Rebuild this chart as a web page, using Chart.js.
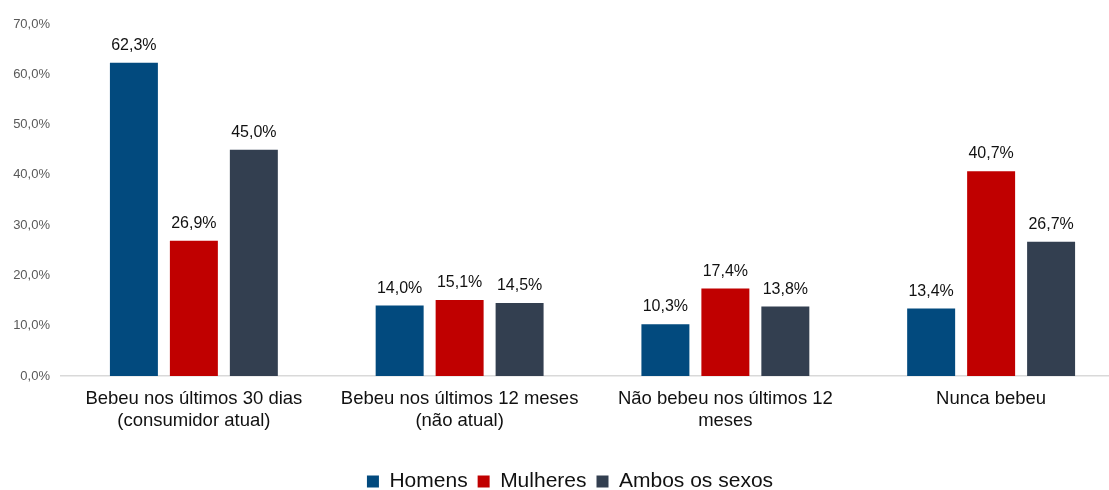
<!DOCTYPE html>
<html>
<head>
<meta charset="utf-8">
<script src="https://cdn.jsdelivr.net/npm/chart.js@4/dist/chart.umd.min.js"></script>
<style>
html,body{margin:0;padding:0;background:#fff;overflow:hidden;}
#wrap{width:1125px;height:502px;position:relative;}
</style>
</head>
<body>
<div id="wrap"><canvas id="c"></canvas></div>
<script>
const categories = [
  ["Bebeu nos últimos 30 dias", "(consumidor atual)"],
  ["Bebeu nos últimos 12 meses", "(não atual)"],
  ["Não bebeu nos últimos 12", "meses"],
  ["Nunca bebeu"]
];
const seriesNames = ["Homens", "Mulheres", "Ambos os sexos"];
const homens = [62.3, 14.0, 10.3, 13.4];
const mulheres = [26.9, 15.1, 17.4, 40.7];
const ambos = [45.0, 14.5, 13.8, 26.7];
const yTicks = [0, 10, 20, 30, 40, 50, 60, 70];

const colors = ["#024A7E", "#C00000", "#333F50"];
const fmt = v => v.toFixed(1).replace('.', ',') + '%';
const FAMILY = '"Liberation Sans", Arial, sans-serif';

const labelPlugin = {
  id: 'valueLabels',
  afterLayout(chart) {
    if (chart.legend) { chart.legend.left += 8; chart.legend.right += 8; }
  },
  afterDatasetsDraw(chart) {
    const ctx = chart.ctx;
    ctx.save();
    ctx.font = '16px ' + FAMILY;
    ctx.fillStyle = '#111111';
    ctx.textAlign = 'center';
    ctx.textBaseline = 'alphabetic';
    chart.data.datasets.forEach((ds, i) => {
      const meta = chart.getDatasetMeta(i);
      meta.data.forEach((bar, j) => {
        ctx.fillText(fmt(ds.data[j]), bar.x, bar.y - 13);
      });
    });
    ctx.restore();
  }
};

new Chart(document.getElementById('c'), {
  type: 'bar',
  data: {
    labels: categories,
    datasets: [
      { label: seriesNames[0], data: homens, backgroundColor: colors[0] },
      { label: seriesNames[1], data: mulheres, backgroundColor: colors[1] },
      { label: seriesNames[2], data: ambos, backgroundColor: colors[2] }
    ]
  },
  options: {
    responsive: true,
    maintainAspectRatio: false,
    animation: false,
    datasets: { bar: { categoryPercentage: 0.677, barPercentage: 0.8 } },
    layout: { padding: { top: 24, left: 0, right: 1, bottom: 0 } },
    plugins: {
      tooltip: { enabled: false },
      legend: {
        position: 'bottom',
        labels: {
          boxWidth: 12, boxHeight: 12, padding: 10,
          color: '#111111',
          font: { family: FAMILY, size: 21 }
        }
      }
    },
    scales: {
      x: {
        grid: { display: false, drawTicks: false },
        border: { display: true, color: '#D9D9D9', width: 1.5 },
        ticks: {
          padding: 12, color: '#111111', maxRotation: 0, autoSkip: false,
          font: { family: FAMILY, size: 18.5, lineHeight: 1.2 }
        },
        afterFit(s) { s.height = 85; }
      },
      y: {
        min: 0, max: 70,
        afterBuildTicks(s) { s.ticks = yTicks.map(v => ({ value: v })); },
        grid: { display: false, drawTicks: false },
        border: { display: false },
        ticks: {
          padding: 11, color: '#595959',
          font: { family: FAMILY, size: 13 },
          callback: v => fmt(v)
        },
        afterFit(s) { s.width = 61; }
      }
    }
  },
  plugins: [labelPlugin]
});
</script>
</body>
</html>
